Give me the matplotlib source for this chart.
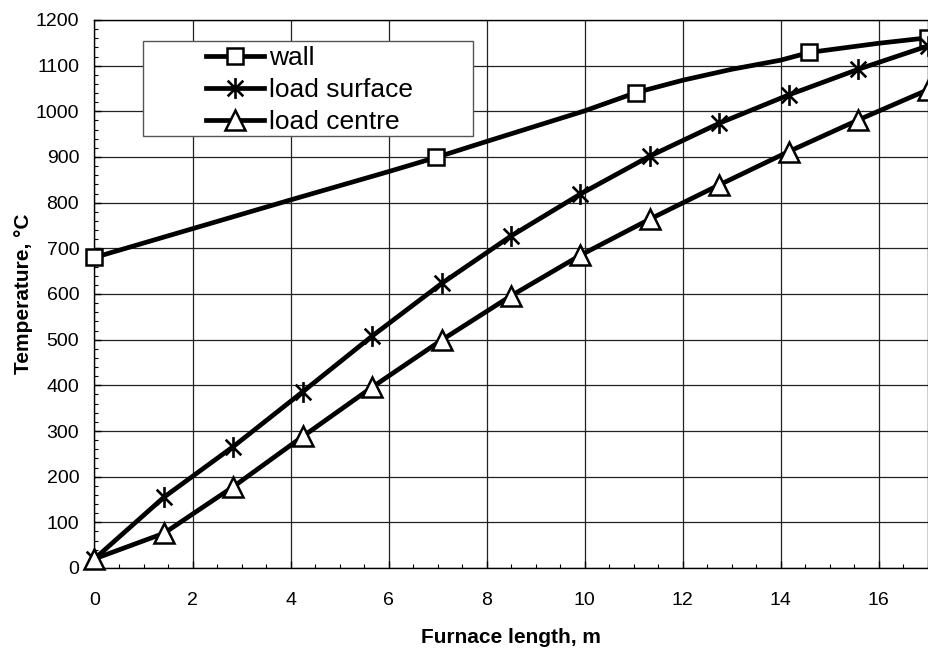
import matplotlib
matplotlib.use("Agg")
import matplotlib.pyplot as plt
from matplotlib.path import Path
from matplotlib.patches import Rectangle
from matplotlib.ticker import MultipleLocator

plt.rcParams['font.family'] = ['Liberation Sans', 'DejaVu Sans']

# Data
x_load = [0, 1.417, 2.833, 4.25, 5.667, 7.083, 8.5, 9.917, 11.333, 12.75, 14.167, 15.583, 17.0]
load_surface = [20, 155, 266, 386, 508, 623, 727, 819, 902, 974, 1036, 1092, 1143]
load_centre = [20, 76, 178, 288, 396, 499, 596, 685, 764, 839, 912, 981, 1047]

x_wall = [0, 2, 4, 6, 6.97, 8, 10, 11.05, 12, 13, 14, 14.59, 16, 17]
wall = [680, 743, 806, 868, 899, 934, 1001, 1041, 1068, 1092, 1112, 1129, 1149, 1161]
wall_markers = [0, 4, 7, 11, 13]

x_ticks = [0, 2, 4, 6, 8, 10, 12, 14, 16]
y_ticks = [0, 100, 200, 300, 400, 500, 600, 700, 800, 900, 1000, 1100, 1200]

star = Path([(0, -1), (0, 1), (-0.75, -0.75), (0.75, 0.75), (-0.75, 0.75), (0.75, -0.75)],
            [Path.MOVETO, Path.LINETO, Path.MOVETO, Path.LINETO, Path.MOVETO, Path.LINETO])

W, H = 929, 650
fig = plt.figure(figsize=(W / 100, H / 100), dpi=100)
ax = fig.add_axes([94.5 / W, (H - 568) / H, (927.6 - 94.5) / W, 548 / H])

lw = 3.4
ax.plot(x_wall, wall, color='black', lw=lw, marker='s', markevery=wall_markers,
        ms=11.5, mfc='white', mec='black', mew=1.8, label='wall', zorder=3, clip_on=False)
ax.plot(x_load, load_surface, color='black', lw=lw, marker=star, ms=15,
        mec='black', mew=1.9, label='load surface', zorder=3, clip_on=False)
ax.plot(x_load, load_centre, color='black', lw=lw, marker='^', ms=14,
        mfc='white', mec='black', mew=1.8, label='load centre', zorder=3, clip_on=False)

ax.set_xlim(0, 17)
ax.set_ylim(0, 1200)
ax.set_xticks(x_ticks)
ax.set_yticks(y_ticks)
ax.xaxis.set_minor_locator(MultipleLocator(0.5))
ax.yaxis.set_minor_locator(MultipleLocator(20))
ax.tick_params(which='both', direction='in', top=False, right=False, labelsize=14)
ax.tick_params(which='major', length=5, width=1)
ax.tick_params(which='minor', length=3, width=0.8)
ax.tick_params(axis='x', pad=17)
ax.tick_params(axis='y', pad=11)
ax.grid(True, which='major', color='#222222', lw=0.9)
ax.set_axisbelow(True)
for s in ax.spines.values():
    s.set_linewidth(1.0)
    s.set_color('black')

ax.set_xlabel('Furnace length, m', fontsize=15, fontweight='bold', labelpad=14)
ax.set_ylabel('Temperature, °C', fontsize=15, fontweight='bold', labelpad=2)

# legend box (Excel style, extra space on the left)
box = Rectangle((143 / W, (H - 136) / H), 330 / W, 95 / H, transform=fig.transFigure,
                facecolor='white', edgecolor='#555555', lw=1.0, zorder=4, clip_on=False)
ax.add_patch(box)
leg = ax.legend(loc='upper left', bbox_to_anchor=(206 / W, (H - 46) / H),
                bbox_transform=fig.transFigure, fontsize=19,
                frameon=False, handlelength=2.2, handletextpad=0.18,
                borderpad=0.0, labelspacing=0.3, borderaxespad=0)
leg.set_zorder(5)

fig.savefig('out.png', dpi=100)
